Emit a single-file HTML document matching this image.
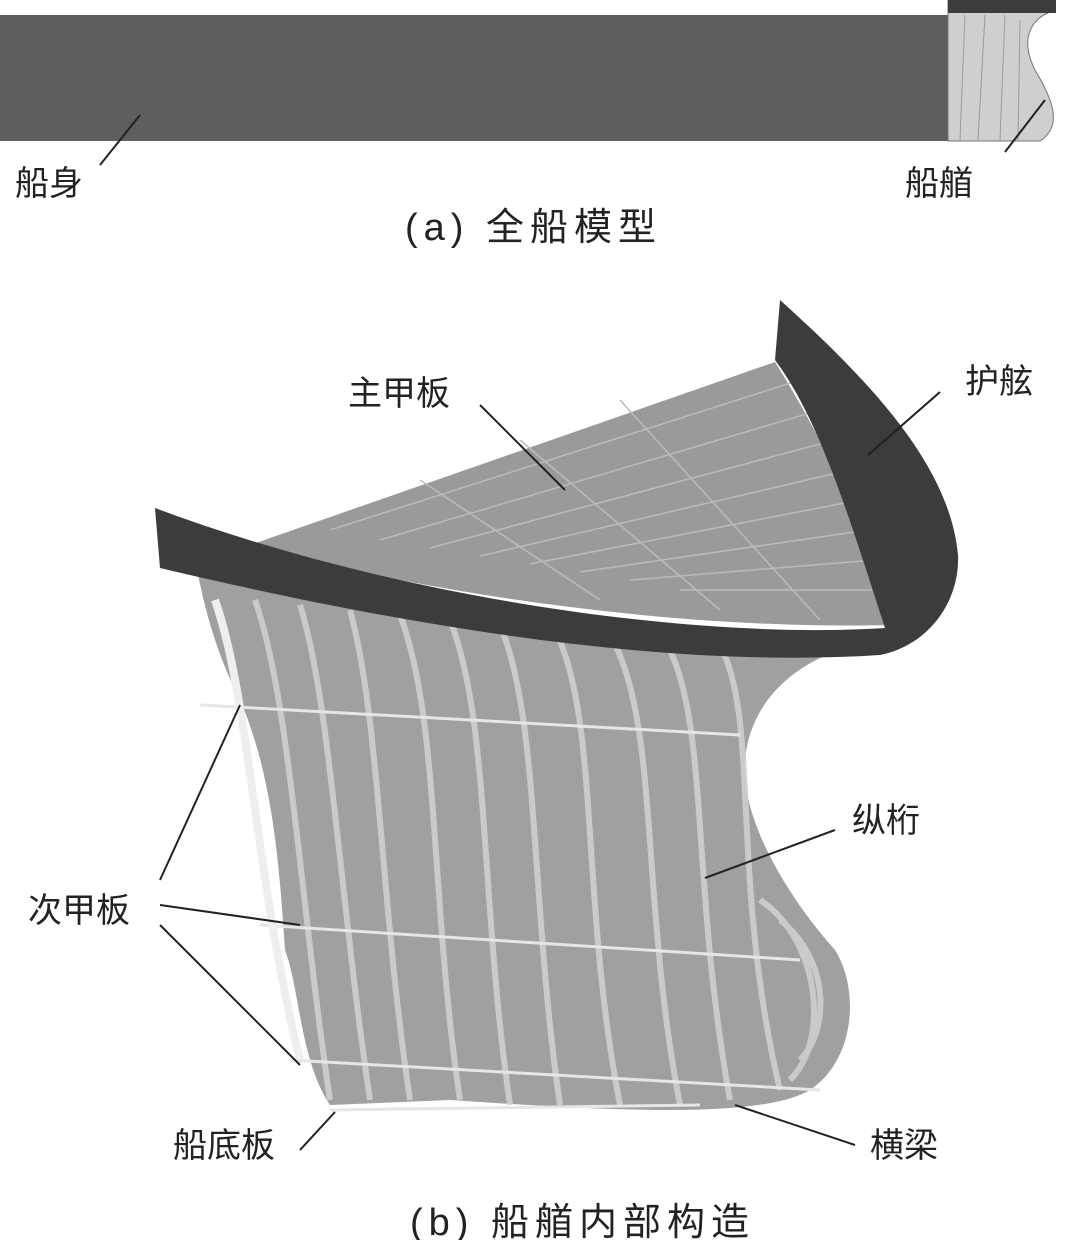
<!DOCTYPE html>
<html><head><meta charset="utf-8"><style>
html,body{margin:0;padding:0;background:#fff;}
svg{display:block}
text{font-family:"Liberation Sans","Noto Sans CJK SC",sans-serif;fill:#222}
</style></head><body>
<svg width="1080" height="1240" viewBox="0 0 1080 1240" xmlns="http://www.w3.org/2000/svg">
<!-- (a) -->
<rect x="0" y="15" width="950" height="126" fill="#5e5e5e"/>
<path d="M948 0 H1055 V12 H1050 C1030 20 1020 40 1035 70 C1050 95 1065 125 1040 141 H948 Z" fill="#cfcfcf" stroke="#777" stroke-width="1"/>
<rect x="948" y="0" width="108" height="13" fill="#3c3c3c"/>
<g stroke="#999" stroke-width="1" fill="none">
<path d="M965 15 L960 140"/><path d="M985 15 L978 140"/><path d="M1005 15 L1000 140"/><path d="M1020 20 L1018 140"/>
</g>
<line x1="140" y1="115" x2="100" y2="165" stroke="#222" stroke-width="2"/>
<line x1="1045" y1="100" x2="1005" y2="152" stroke="#222" stroke-width="2"/>
<text x="15" y="195" font-size="34">船身</text>
<text x="905" y="195" font-size="34">船艏</text>
<text x="405" y="240" font-size="38" letter-spacing="6">(a)  全船模型</text>

<!-- (b) hull body -->
<path d="M195 560 C400 610 700 650 885 640 C800 650 750 700 745 760 C740 820 790 900 835 950 C860 990 855 1060 810 1090 C760 1120 600 1110 450 1100 L330 1105 C300 1060 300 990 285 950 C280 880 275 780 240 700 C215 650 205 610 195 560 Z" fill="#a0a0a0"/>
<!-- ribs -->
<g stroke="#cfcfcf" stroke-width="6" fill="none" opacity="0.9">
<path d="M255 600 C290 700 300 900 330 1100"/>
<path d="M300 605 C330 700 340 900 370 1100"/>
<path d="M350 610 C380 720 380 900 410 1100"/>
<path d="M400 615 C440 720 430 900 460 1100"/>
<path d="M450 620 C490 720 480 900 510 1105"/>
<path d="M500 625 C540 720 530 900 560 1105"/>
<path d="M555 630 C600 720 580 900 620 1105"/>
<path d="M610 635 C660 720 640 900 680 1105"/>
<path d="M665 640 C710 720 690 880 730 1100"/>
<path d="M720 645 C760 720 730 880 780 1090"/>
<path d="M760 900 C820 940 830 1040 790 1080"/>
<path d="M780 920 C830 960 830 1030 800 1060"/>
</g>
<g stroke="#e6e6e6" stroke-width="3" fill="none">
<path d="M200 705 L740 735"/>
<path d="M260 925 L800 960"/>
<path d="M290 1060 L820 1090"/>
<path d="M330 1110 L700 1105"/>
</g>
<path d="M215 600 C250 700 255 880 300 1060" stroke="#eee" stroke-width="8" fill="none"/>
<!-- deck -->
<path d="M250 545 L775 362 C830 450 870 540 890 625 C700 630 450 600 250 545 Z" fill="#9a9a9a"/>
<g stroke="#bbb" stroke-width="1.5" fill="none">
<path d="M330 530 L800 380"/><path d="M380 540 L820 410"/><path d="M430 548 L835 440"/>
<path d="M480 556 L850 470"/><path d="M530 564 L860 500"/><path d="M580 572 L868 530"/>
<path d="M630 580 L875 560"/><path d="M680 590 L880 590"/>
<path d="M420 480 L600 600"/><path d="M520 440 L720 610"/><path d="M620 400 L820 620"/>
</g>
<!-- bulwark -->
<path d="M155 508 C400 600 700 640 885 628 C850 520 820 420 775 360 L780 300 C880 390 950 470 958 555 C960 600 930 645 880 655 C650 670 380 620 160 568 Z" fill="#3c3c3c"/>
<!-- leaders -->
<g stroke="#222" stroke-width="2" fill="none">
<path d="M480 405 L565 490"/>
<path d="M940 392 L868 455"/>
<path d="M835 830 L705 878"/>
<path d="M160 880 L240 705"/>
<path d="M160 905 L300 925"/>
<path d="M160 925 L300 1065"/>
<path d="M300 1150 L335 1112"/>
<path d="M855 1145 L735 1105"/>
</g>
<text x="348" y="405" font-size="34">主甲板</text>
<text x="965" y="393" font-size="34">护舷</text>
<text x="852" y="832" font-size="34">纵桁</text>
<text x="28" y="922" font-size="34">次甲板</text>
<text x="173" y="1157" font-size="34">船底板</text>
<text x="870" y="1157" font-size="34">横梁</text>
<text x="410" y="1235" font-size="38" letter-spacing="6">(b)  船艏内部构造</text>
</svg>
</body></html>
